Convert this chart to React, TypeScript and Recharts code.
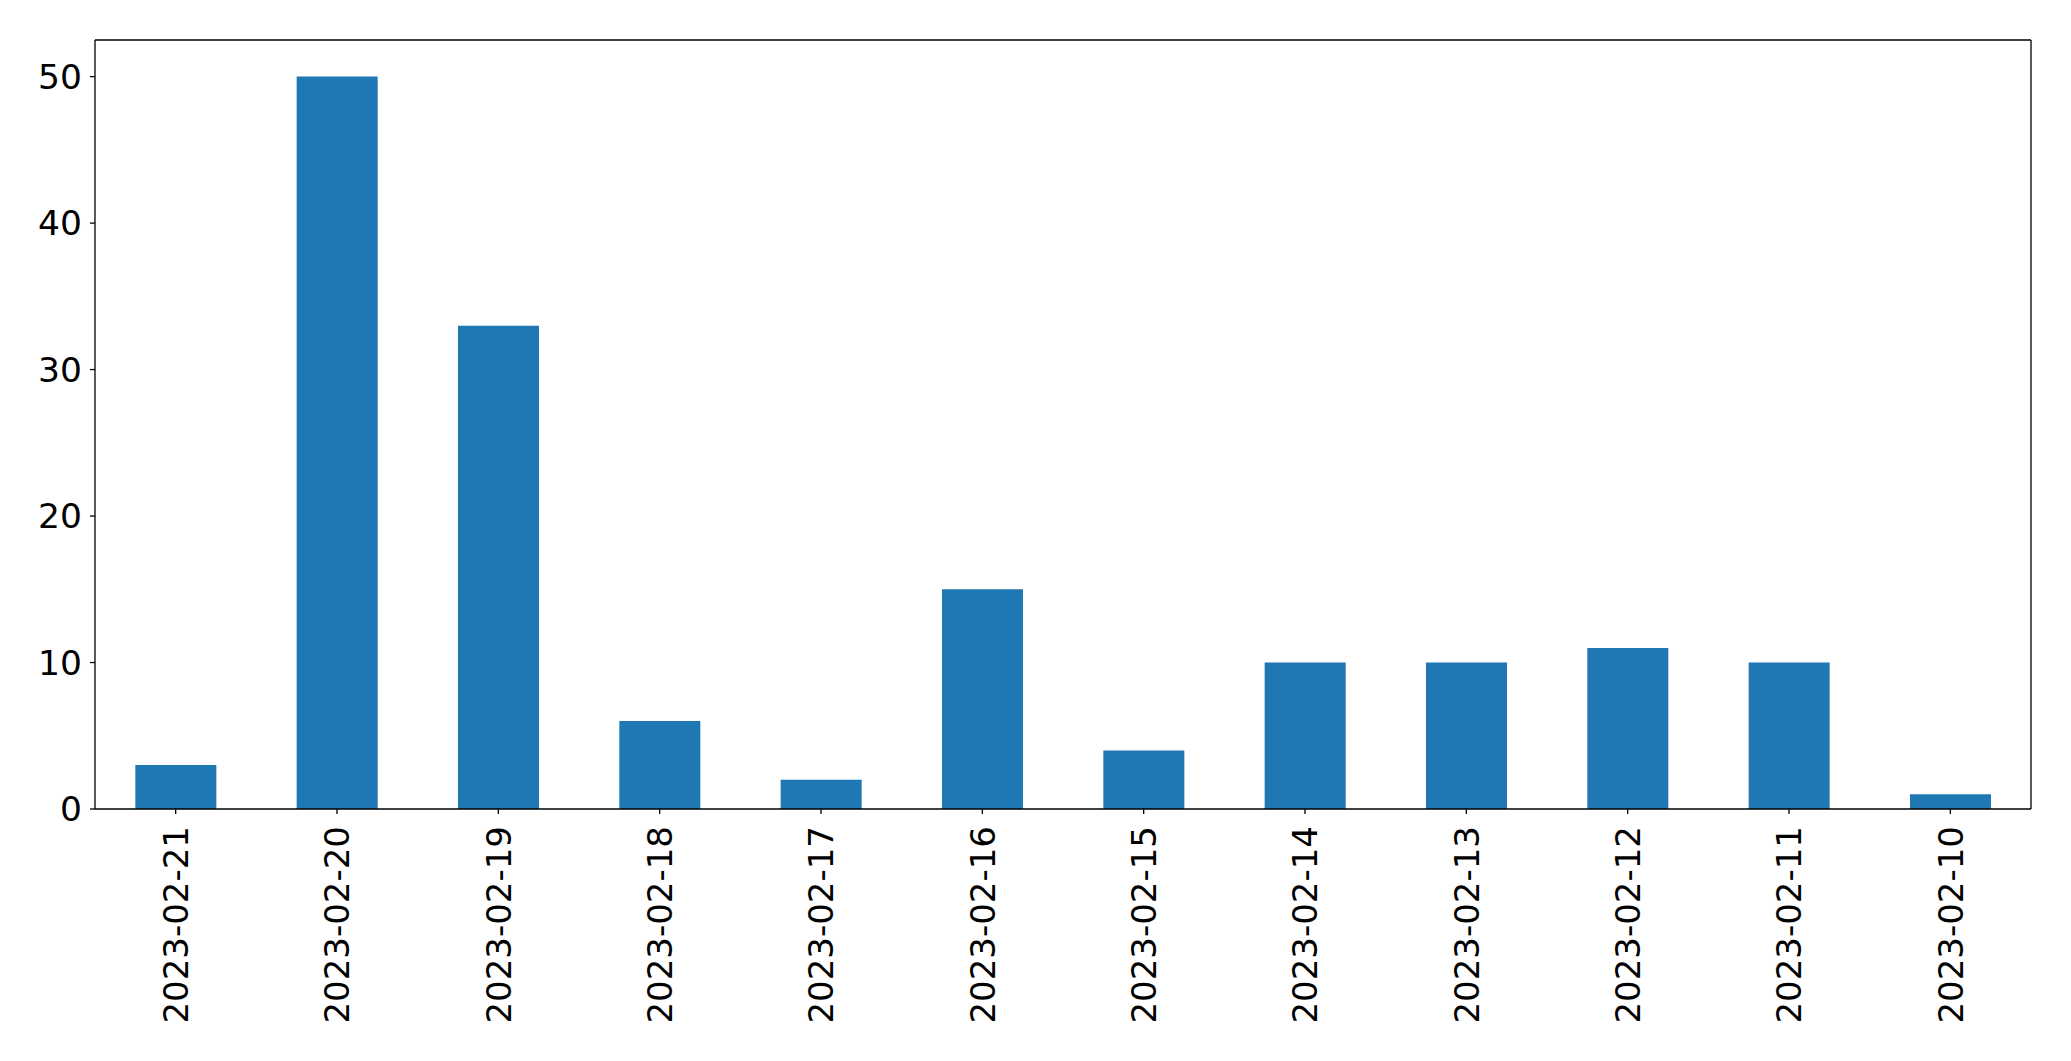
import React from "react";
import { BarChart, Bar, XAxis, YAxis } from "recharts";

const dates = [
  "2023-02-21",
  "2023-02-20",
  "2023-02-19",
  "2023-02-18",
  "2023-02-17",
  "2023-02-16",
  "2023-02-15",
  "2023-02-14",
  "2023-02-13",
  "2023-02-12",
  "2023-02-11",
  "2023-02-10",
];
const counts = [3, 50, 33, 6, 2, 15, 4, 10, 10, 11, 10, 1];
const yTicks = [0, 10, 20, 30, 40, 50];

const data = dates.map((d, i) => ({ date: d, count: counts[i] }));

const FONT = "DejaVu Sans";
const LINE = { stroke: "#000", strokeWidth: 1.3 };

function DateTick({ x, y, payload }: any) {
  return (
    <g transform={`translate(${x},${y})`}>
      <text
        transform="rotate(-90)"
        textAnchor="end"
        dy="0.36em"
        fontFamily={FONT}
        fontSize={34}
        fill="#000"
      >
        {payload.value}
      </text>
    </g>
  );
}

export default function App() {
  return (
    <div style={{ position: "absolute", left: 0, top: 0, background: "#fff" }}>
      <BarChart
        width={2071}
        height={1061}
        data={data}
        margin={{ top: 39, right: 39, left: 0, bottom: 0 }}
        barCategoryGap="25%"
      >
        <XAxis
          dataKey="date"
          height={252}
          interval={0}
          tickSize={5}
          tickMargin={12}
          tick={<DateTick />}
          axisLine={LINE}
          tickLine={LINE}
        />
        <XAxis
          xAxisId="top"
          dataKey="date"
          orientation="top"
          height={1}
          tick={false}
          tickLine={false}
          axisLine={LINE}
        />
        <YAxis
          type="number"
          domain={[0, 52.5]}
          ticks={yTicks}
          width={95}
          tickSize={5}
          tickMargin={8}
          interval={0}
          tick={{ fontFamily: FONT, fontSize: 34.5, fill: "#000" }}
          axisLine={LINE}
          tickLine={LINE}
        />
        <YAxis
          yAxisId="right"
          orientation="right"
          type="number"
          domain={[0, 52.5]}
          width={1}
          tick={false}
          tickLine={false}
          axisLine={LINE}
        />
        <Bar dataKey="count" fill="#1f77b4" isAnimationActive={false} />
      </BarChart>
    </div>
  );
}
